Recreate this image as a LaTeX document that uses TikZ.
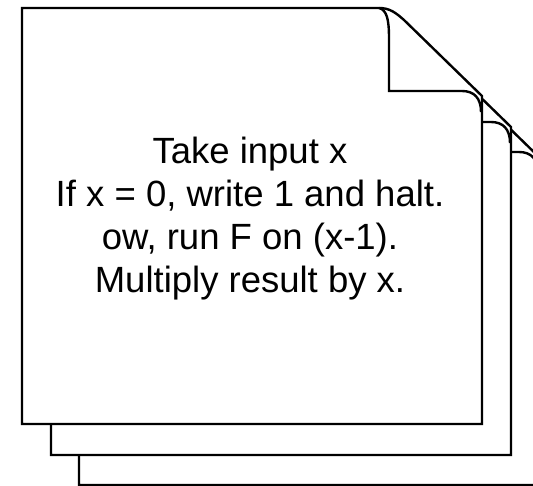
\documentclass[tikz,border=0pt]{standalone}
\usepackage{fontspec}
\setmainfont{Liberation Sans}
\begin{document}
\begin{tikzpicture}[x=1pt, y=-1pt,
    page/.style={fill=white, draw=black, line width=2.4pt},
    flap/.style={draw=black, line width=2.4pt}]
  \clip (0,0) rectangle (533,486);
  \useasboundingbox (0,0) rectangle (533,486);
  % stacked pages, back to front
  \foreach \dx/\dy in {57/61, 29/31, 0/0} {
    \begin{scope}[shift={(22+\dx,8+\dy)}]
      \path[page] (0,0) -- (357,0) .. controls (368,0) and (374,5) .. (382,12)
        -- (460,88) -- (460,416) -- (0,416) -- cycle;
      % curled corner
      \path[flap] (357,0) .. controls (365,2) and (367,12) .. (367,30)
        -- (367,83) -- (440,83) .. controls (452,83) and (459,90) .. (459,104);
    \end{scope}
  }
  \node[align=center, font=\fontsize{36.5}{43}\selectfont] (prog) at (250,218.5)
    {Take input x\\If x = 0, write 1 and halt.\\ow, run F on (x-1).\\Multiply result by x.};
\end{tikzpicture}
\end{document}
